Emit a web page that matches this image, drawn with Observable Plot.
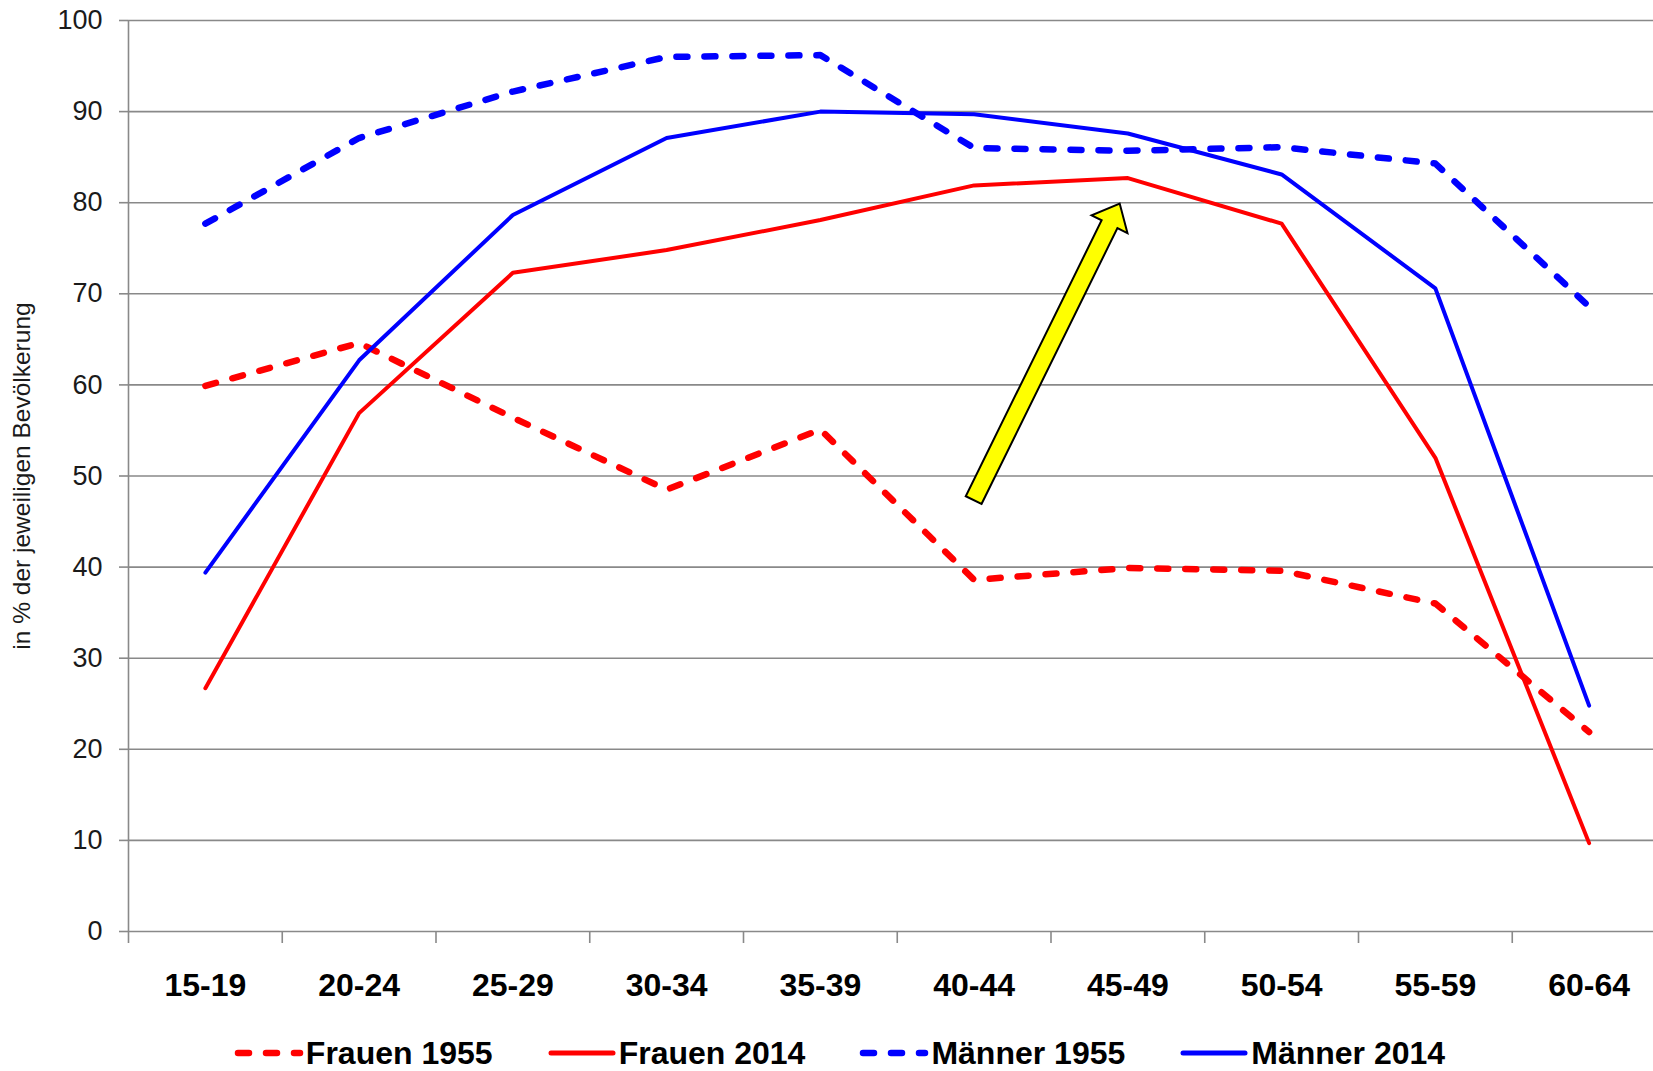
<!DOCTYPE html>
<html>
<head>
<meta charset="utf-8">
<script src="https://cdn.jsdelivr.net/npm/d3@7"></script>
<script src="https://cdn.jsdelivr.net/npm/@observablehq/plot@0.6"></script>
<style>
  html, body { margin: 0; padding: 0; background: #fff; overflow: hidden; }
  #chart svg { display: block; }
  #legend {
    height: 56px; display: flex; align-items: center; justify-content: center;
    padding-top: 20px; padding-left: 26px; box-sizing: border-box;
    font-family: "Liberation Sans", Arial, sans-serif; font-weight: bold; font-size: 32px; color: #000;
  }
  .item { display: flex; align-items: center; margin: 0 27px; }
  .item svg { margin-right: 2px; }
</style>
</head>
<body>
<div id="chart"></div>
<div id="legend"></div>
<script>
// ---- data ----
const ageGroups = ["15-19", "20-24", "25-29", "30-34", "35-39", "40-44", "45-49", "50-54", "55-59", "60-64"];
const frauen1955 = [59.9, 64.6, 56.4, 48.5, 55.1, 38.6, 39.9, 39.6, 36.0, 21.9];
const frauen2014 = [26.7, 56.9, 72.3, 74.8, 78.1, 81.9, 82.7, 77.7, 52.0, 9.7];
const maenner1955 = [77.7, 87.1, 92.2, 96.0, 96.2, 86.0, 85.7, 86.1, 84.3, 68.6];
const maenner2014 = [39.4, 62.7, 78.65, 87.1, 90.0, 89.7, 87.6, 83.1, 70.6, 24.8];
const seriesNames = ["Frauen 1955", "Frauen 2014", "Männer 1955", "Männer 2014"];
const yTicks = [0, 10, 20, 30, 40, 50, 60, 70, 80, 90, 100];
const yLabel = "in % der jeweiligen Bevölkerung";
// annotation arrow (in category-index / percent units)
const arrowTail = {x: 5.5, y: 47.3};
const arrowTip = {x: 6.45, y: 79.85};

// ---- styles ----
const gray = "#898989";
const styles = {
  "Frauen 1955": {stroke: "#ff0000", dashed: true},
  "Frauen 2014": {stroke: "#ff0000", dashed: false},
  "Männer 1955": {stroke: "#0000ff", dashed: true},
  "Männer 2014": {stroke: "#0000ff", dashed: false}
};
const DASH = "11,17";

const valuesBySeries = [frauen1955, frauen2014, maenner1955, maenner2014];
const rows = seriesNames.flatMap((name, s) =>
  valuesBySeries[s].map((v, i) => ({series: name, pos: i + 0.5, value: v})));

const bandCenters = ageGroups.map((d, i) => i + 0.5);
const bandEdges = d3.range(1, ageGroups.length);

function arrowMark(index, scales) {
  const tx = scales.x(arrowTail.x), ty = scales.y(arrowTail.y);
  const px = scales.x(arrowTip.x), py = scales.y(arrowTip.y);
  const dx = px - tx, dy = py - ty, len = Math.hypot(dx, dy);
  const ux = dx / len, uy = dy / len, nx = -uy, ny = ux;
  const s = 8.8, h = 20, L = 23;
  const bx = px - ux * L, by = py - uy * L;
  const pts = [
    [tx + nx * s, ty + ny * s], [bx + nx * s, by + ny * s], [bx + nx * h, by + ny * h],
    [px, py],
    [bx - nx * h, by - ny * h], [bx - nx * s, by - ny * s], [tx - nx * s, ty - ny * s]
  ];
  const g = d3.create("svg:g");
  g.append("polygon")
    .attr("points", pts.map(p => p.join(",")).join(" "))
    .attr("fill", "#ffff00").attr("stroke", "#000").attr("stroke-width", 2)
    .attr("stroke-linejoin", "miter");
  return g.node();
}

const lineMarks = seriesNames.map(name => Plot.lineY(rows.filter(r => r.series === name), {
  x: "pos", y: "value",
  stroke: styles[name].stroke,
  strokeWidth: styles[name].dashed ? 6.5 : 4,
  strokeDasharray: styles[name].dashed ? DASH : null,
  strokeLinecap: "round", strokeLinejoin: "round"
}));

const chart = Plot.plot({
  width: 1653,
  height: 1015,
  marginTop: 20,
  marginBottom: 84,
  marginLeft: 128,
  marginRight: 0,
  style: {fontFamily: "'Liberation Sans', Arial, sans-serif", background: "#fff", color: "#1a1a1a"},
  x: {type: "linear", domain: [0, ageGroups.length], range: [128, 128 + 153.75 * ageGroups.length]},
  y: {domain: [0, 100], range: [931, 20]},
  marks: [
    Plot.gridY(yTicks, {stroke: gray, strokeOpacity: 1, strokeWidth: 1.6}),
    Plot.axisY(yTicks, {tickSize: 9, tickPadding: 17, fontSize: 27, stroke: gray, strokeWidth: 1.6, fill: "#1a1a1a", label: null}),
    Plot.ruleX([0], {stroke: gray, strokeWidth: 1.6, insetBottom: -12}),
    Plot.axisX(bandEdges, {tickSize: 12, stroke: gray, strokeWidth: 1.6, tickFormat: () => "", label: null}),
    Plot.axisX(bandCenters, {tickSize: 0, tickPadding: 42, fontSize: 32, fontWeight: "bold", fill: "#000",
      tickFormat: d => ageGroups[Math.floor(d)], label: null}),
    ...lineMarks,
    arrowMark,
    Plot.text([yLabel], {text: d => d, frameAnchor: "left", textAnchor: "middle", dx: -106, rotate: -90, fontSize: 24.5, fill: "#1a1a1a"})
  ]
});
document.getElementById("chart").appendChild(chart);

// ---- legend ----
const legend = d3.select("#legend");
seriesNames.forEach(name => {
  const item = legend.append("div").attr("class", "item");
  const sw = item.append("svg").attr("width", 70).attr("height", 14);
  sw.append("line").attr("x1", 4).attr("x2", 66).attr("y1", 7).attr("y2", 7)
    .attr("stroke", styles[name].stroke)
    .attr("stroke-width", styles[name].dashed ? 6.5 : 5)
    .attr("stroke-linecap", "round")
    .attr("stroke-dasharray", styles[name].dashed ? DASH : null);
  item.append("span").text(name);
});
</script>
</body>
</html>
